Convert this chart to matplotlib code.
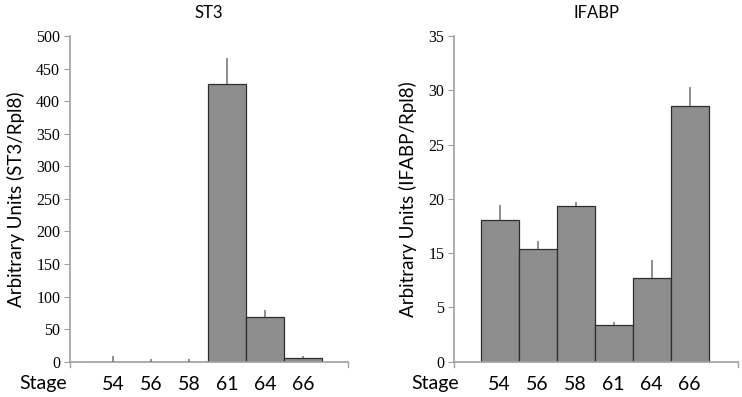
import numpy as np
import matplotlib
matplotlib.use("Agg")
from matplotlib import pyplot as plt

# data
stages = ["54", "56", "58", "61", "64", "66"]

st3_vals = [0, 0, 0, 427, 68, 6]
st3_err = [9, 4, 4, 40, 12, 3]

ifabp_vals = [18.1, 15.4, 19.3, 3.4, 10.5, 28.6]
ifabp_err = [1.3, 0.7, 0.4, 0.3, 3.3, 1.7]

st3_ticks = [0, 50, 100, 150, 200, 250, 300, 350, 400, 450, 500]
# the original IFABP axis skips 10: ticks are evenly spaced with labels 0,5,15,...
ifabp_ticks = [0, 5, 15, 20, 25, 30, 35]

BAR = "#8e8e8e"
EDGE = "#2e2e2e"
ERR = "#7a7a7a"
AXC = "#a0a0a0"
sans = ["Lato", "DejaVu Sans"]
serif = ["Liberation Serif", "DejaVu Serif"]


def ifabp_fwd(v):
    v = np.asarray(v, dtype=float)
    return np.where(v <= 5, v, np.where(v <= 15, 5 + (v - 5) / 2, v - 5))


def ifabp_inv(p):
    p = np.asarray(p, dtype=float)
    return np.where(p <= 5, p, np.where(p <= 10, 5 + (p - 5) * 2, p + 5))


def draw(ax, vals, err, ticks, title, ylabel, xlim, stage_x):
    x = np.arange(len(stages))
    ax.bar(x, vals, width=1.0, color=BAR, edgecolor=EDGE, linewidth=0.9, zorder=2)
    ax.errorbar(x, vals, yerr=[np.zeros(len(err)), err], fmt="none",
                ecolor=ERR, elinewidth=1.2, capsize=0, zorder=3)
    ax.set_xlim(*xlim)
    ax.set_xticks(x)
    ax.set_xticklabels(stages, fontsize=14, family=sans)
    ax.tick_params(axis="x", length=0, pad=10)
    ax.set_yticks(ticks)
    ax.set_yticklabels([str(t) for t in ticks], fontsize=11.5, family=serif)
    ax.tick_params(axis="y", length=4, width=0.8, color=AXC, pad=3)
    for s in ["top", "right"]:
        ax.spines[s].set_visible(False)
    for s in ["left", "bottom"]:
        ax.spines[s].set_color(AXC)
        ax.spines[s].set_linewidth(1.2)
        ax.spines[s].set_zorder(2.5)
    # little ticks at both ends of the category axis
    ax.plot([xlim[0], xlim[0]], [0, -0.015], transform=ax.get_xaxis_transform(),
            color=AXC, lw=1.0, clip_on=False)
    ax.plot([xlim[1], xlim[1]], [0, -0.015], transform=ax.get_xaxis_transform(),
            color=AXC, lw=1.0, clip_on=False)
    ax.set_title(title, fontsize=12, family=sans, pad=13)
    ax.set_ylabel(ylabel, fontsize=13.5, family=sans, labelpad=8)
    ax.text(stage_x, -0.068, "Stage", transform=ax.transAxes, fontsize=14,
            family=sans, ha="center", va="center")


fig = plt.figure(figsize=(7.42, 3.97), dpi=100)
ax1 = fig.add_axes([0.0943, 0.089, 0.3747, 0.820])
ax2 = fig.add_axes([0.612, 0.089, 0.383, 0.820])

draw(ax1, st3_vals, st3_err, st3_ticks, "ST3", "Arbitrary Units (ST3/Rpl8)",
     (-1.13, 6.18), -0.097)
ax1.set_ylim(0, 500)

ax2.set_yscale("function", functions=(ifabp_fwd, ifabp_inv))
draw(ax2, ifabp_vals, ifabp_err, ifabp_ticks, "IFABP", "Arbitrary Units (IFABP/Rpl8)",
     (-1.2, 6.28), -0.067)
ax2.set_ylim(0, 35)
ax2.yaxis.set_minor_locator(matplotlib.ticker.NullLocator())

fig.savefig("out.png", dpi=100)
plt.close(fig)
